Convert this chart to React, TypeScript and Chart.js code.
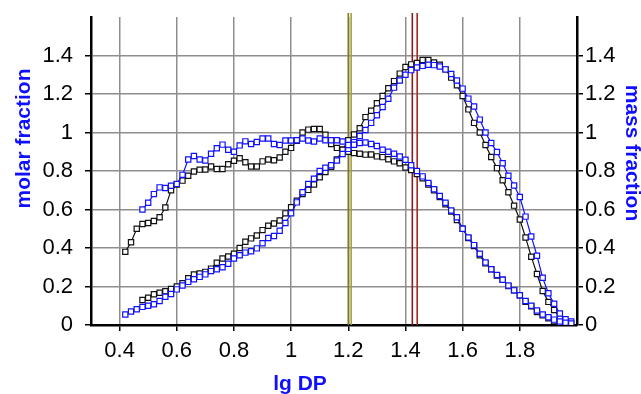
import React, { useEffect, useRef } from 'react';
import { Chart, registerables } from 'chart.js';

Chart.register(...registerables);

// lg DP sampling grid
const lgDP = [
  0.42, 0.44, 0.46, 0.48, 0.50, 0.52, 0.54, 0.56, 0.58, 0.60,
  0.62, 0.64, 0.66, 0.68, 0.70, 0.72, 0.74, 0.76, 0.78, 0.80,
  0.82, 0.84, 0.86, 0.88, 0.90, 0.92, 0.94, 0.96, 0.98, 1.00,
  1.02, 1.04, 1.06, 1.08, 1.10, 1.12, 1.14, 1.16, 1.18, 1.20,
  1.22, 1.24, 1.26, 1.28, 1.30, 1.32, 1.34, 1.36, 1.38, 1.40,
  1.42, 1.44, 1.46, 1.48, 1.50, 1.52, 1.54, 1.56, 1.58, 1.60,
  1.62, 1.64, 1.66, 1.68, 1.70, 1.72, 1.74, 1.76, 1.78, 1.80,
  1.82, 1.84, 1.86, 1.88, 1.90, 1.92, 1.94, 1.96, 1.98,
];

const molarBlue = [
  null, null, null, 0.60, 0.635, 0.68, 0.715, 0.712, 0.723, 0.733,
  0.78, 0.86, 0.878, 0.86, 0.855, 0.89, 0.918, 0.937, 0.91, 0.90,
  0.933, 0.954, 0.94, 0.951, 0.969, 0.969, 0.94, 0.935, 0.958, 0.958,
  0.96, 0.969, 0.958, 0.953, 0.969, 0.96, 0.96, 0.96, 0.953, 0.935,
  0.936, 0.945, 0.948, 0.94, 0.93, 0.91, 0.90, 0.89, 0.875, 0.858,
  0.83, 0.80, 0.772, 0.738, 0.705, 0.67, 0.635, 0.595, 0.56, 0.50,
  0.455, 0.415, 0.37, 0.325, 0.29, 0.26, 0.235, 0.205, 0.18, 0.155,
  0.125, 0.10, 0.075, 0.055, 0.04, 0.028, 0.018, 0.012, 0.008,
];

const molarBlack = [
  0.38, 0.43, 0.50, 0.525, 0.53, 0.54, 0.56, 0.61, 0.70, 0.73,
  0.75, 0.775, 0.797, 0.807, 0.808, 0.823, 0.81, 0.81, 0.835, 0.853,
  0.866, 0.845, 0.823, 0.823, 0.85, 0.86, 0.856, 0.87, 0.90, 0.92,
  0.957, 1.0, 1.015, 1.018, 1.018, 0.988, 0.94, 0.92, 0.91, 0.90,
  0.893, 0.89, 0.885, 0.886, 0.876, 0.872, 0.861, 0.85, 0.84, 0.818,
  0.805, 0.784, 0.762, 0.73, 0.70, 0.665, 0.627, 0.59, 0.545, 0.50,
  0.452, 0.41, 0.362, 0.32, 0.29, 0.257, 0.235, 0.202, 0.18, 0.155,
  0.12, 0.097, 0.068, 0.05, 0.035, 0.02, 0.01, 0.003, null,
];

const massBlue = [
  0.055, 0.07, 0.082, 0.094, 0.10, 0.108, 0.125, 0.147, 0.161, 0.185,
  0.205, 0.224, 0.238, 0.25, 0.263, 0.28, 0.29, 0.30, 0.318, 0.345,
  0.362, 0.376, 0.383, 0.398, 0.425, 0.452, 0.462, 0.49, 0.53, 0.58,
  0.637, 0.69, 0.732, 0.76, 0.80, 0.817, 0.83, 0.855, 0.888, 0.915,
  0.95, 0.982, 1.013, 1.05, 1.09, 1.132, 1.175, 1.233, 1.27, 1.30,
  1.324, 1.338, 1.346, 1.352, 1.35, 1.343, 1.328, 1.304, 1.27, 1.228,
  1.176, 1.135, 1.067, 1.0, 0.945, 0.899, 0.84, 0.775, 0.725, 0.665,
  0.563, 0.46, 0.36, 0.245, 0.165, 0.11, 0.06, 0.03, 0.018,
];

const massBlack = [
  null, null, null, 0.13, 0.142, 0.16, 0.168, 0.175, 0.187, 0.20,
  0.217, 0.243, 0.262, 0.268, 0.276, 0.293, 0.323, 0.345, 0.356, 0.37,
  0.40, 0.432, 0.45, 0.465, 0.493, 0.516, 0.527, 0.543, 0.58, 0.612,
  0.645, 0.68, 0.702, 0.73, 0.768, 0.795, 0.822, 0.86, 0.91, 0.96,
  0.99, 1.022, 1.08, 1.113, 1.152, 1.19, 1.23, 1.267, 1.306, 1.34,
  1.354, 1.361, 1.377, 1.377, 1.364, 1.352, 1.328, 1.285, 1.245, 1.19,
  1.12, 1.05, 1.0, 0.935, 0.873, 0.815, 0.752, 0.69, 0.62, 0.548,
  0.455, 0.355, 0.265, 0.177, 0.12, 0.078, 0.035, 0.008, null,
];

const xTicks = [0.4, 0.6, 0.8, 1.0, 1.2, 1.4, 1.6, 1.8];
const yTicks = [0, 0.2, 0.4, 0.6, 0.8, 1.0, 1.2, 1.4];

// vertical reference lines (lg DP values)
const refLines = [1.2, 1.21, 1.424, 1.441];
const refColors = ['#7c7a22', '#a89f38', '#8e1a1a', '#a52626'];

const FONT = '"Liberation Sans", Arial, Helvetica, sans-serif';
const BLUE = '#1010ff';
const BLACK = '#111111';

function series(values: (number | null)[]) {
  const out: { x: number; y: number }[] = [];
  values.forEach((v, i) => {
    if (v !== null) out.push({ x: lgDP[i], y: v });
  });
  return out;
}

const fmt = (v: number) => Number(Number(v).toFixed(1)).toString();

const overlay = {
  id: 'overlay',
  beforeDatasetsDraw(chart: any) {
    const { ctx, chartArea, scales } = chart;
    refLines.forEach((v, i) => {
      const x = scales.x.getPixelForValue(v);
      ctx.save();
      ctx.strokeStyle = refColors[i];
      ctx.lineWidth = 1.6;
      ctx.beginPath();
      ctx.moveTo(x, chartArea.top - 4);
      ctx.lineTo(x, chartArea.bottom);
      ctx.stroke();
      ctx.restore();
    });
  },
  afterDraw(chart: any) {
    const { ctx } = chart;
    ctx.save();
    ctx.font = `bold 21px ${FONT}`;
    ctx.fillStyle = BLUE;
    ctx.textAlign = 'center';
    ctx.textBaseline = 'middle';
    ctx.save();
    ctx.translate(24, 138.5);
    ctx.rotate(-Math.PI / 2);
    ctx.fillText('molar fraction', 0, 0);
    ctx.restore();
    ctx.save();
    ctx.translate(632, 153);
    ctx.rotate(Math.PI / 2);
    ctx.fillText('mass fraction', 0, 0);
    ctx.restore();
    ctx.fillText('lg DP', 300, 384);
    ctx.restore();
  },
};

export default function App() {
  const ref = useRef<HTMLCanvasElement | null>(null);

  useEffect(() => {
    if (!ref.current) return;
    const lineDs = (label: string, data: any, color: string, axis: string) => ({
      label,
      data,
      yAxisID: axis,
      borderColor: color,
      borderWidth: 1.2,
      pointStyle: 'rect',
      pointRadius: 3.7,
      pointBorderWidth: 1.2,
      pointBorderColor: color,
      pointBackgroundColor: '#ffffff',
      tension: 0,
      fill: false,
    });
    const gridOpts = {
      color: '#8e8e8e',
      lineWidth: 1.5,
      tickColor: '#000',
      tickLength: 6,
      tickWidth: 1.5,
    };
    const noPadY = (s: any, w: number) => {
      s.width = w;
      s.paddingTop = 0;
      s.paddingBottom = 0;
    };
    const chart = new Chart(ref.current, {
      type: 'line',
      data: {
        datasets: [
          lineDs('molar fraction (blue)', series(molarBlue), BLUE, 'y'),
          lineDs('mass fraction (blue)', series(massBlue), BLUE, 'y2'),
          lineDs('molar fraction (black)', series(molarBlack), BLACK, 'y'),
          lineDs('mass fraction (black)', series(massBlack), BLACK, 'y2'),
        ] as any,
      },
      options: {
        animation: false,
        responsive: false,
        devicePixelRatio: 1,
        layout: { padding: { top: 17, left: 0, right: 0, bottom: 0 } },
        plugins: { legend: { display: false }, tooltip: { enabled: false } },
        scales: {
          x: {
            type: 'linear',
            min: 0.3,
            max: 2.0,
            afterBuildTicks: (s: any) => {
              s.ticks = xTicks.map((v) => ({ value: v }));
            },
            afterFit: (s: any) => {
              s.height = 69;
              s.paddingLeft = 0;
              s.paddingRight = 0;
            },
            grid: gridOpts,
            border: { display: true, color: '#000', width: 2.5 },
            ticks: {
              font: { family: FONT, size: 22 },
              color: '#000',
              padding: 7,
              maxRotation: 0,
              autoSkip: false,
              callback: (v: any) => fmt(v),
            },
          },
          y: {
            type: 'linear',
            position: 'left',
            min: 0,
            max: 1.6,
            afterBuildTicks: (s: any) => {
              s.ticks = yTicks.map((v) => ({ value: v }));
            },
            afterFit: (s: any) => noPadY(s, 91),
            grid: gridOpts,
            border: { display: true, color: '#000', width: 2.5 },
            ticks: {
              font: { family: FONT, size: 22 },
              color: '#000',
              padding: 12,
              autoSkip: false,
              callback: (v: any) => fmt(v),
            },
          },
          y2: {
            type: 'linear',
            position: 'right',
            min: 0,
            max: 1.6,
            afterBuildTicks: (s: any) => {
              s.ticks = yTicks.map((v) => ({ value: v }));
            },
            afterFit: (s: any) => noPadY(s, 64),
            grid: { ...gridOpts, drawOnChartArea: false },
            border: { display: true, color: '#000', width: 2.5 },
            ticks: {
              font: { family: FONT, size: 22 },
              color: '#000',
              padding: 2,
              autoSkip: false,
              callback: (v: any) => fmt(v),
            },
          },
        },
      } as any,
      plugins: [overlay],
    });
    return () => chart.destroy();
  }, []);

  return (
    <div style={{ position: 'absolute', left: 0, top: 0, width: 641, height: 394, background: '#fff' }}>
      <canvas ref={ref} width={641} height={394} style={{ display: 'block' }} />
    </div>
  );
}
